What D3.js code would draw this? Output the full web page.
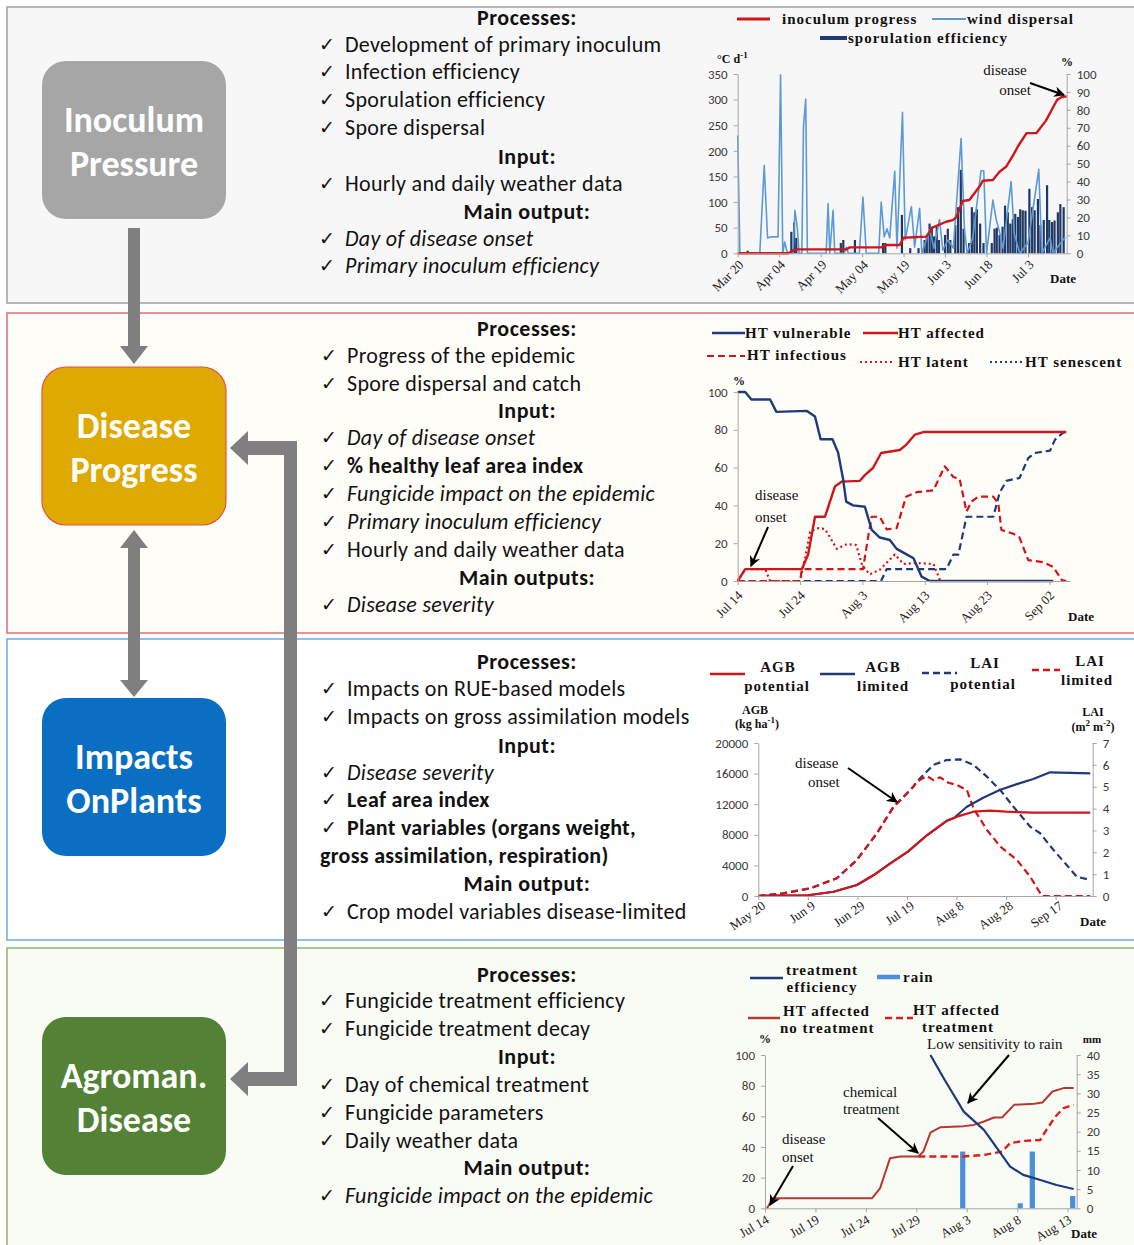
<!DOCTYPE html>
<html>
<head>
<meta charset="utf-8">
<script src="https://cdn.jsdelivr.net/npm/d3@7"></script>
<style>
  body { margin: 0; background: #fff; }
</style>
</head>
<body>
<svg id="fig" width="1134" height="1245"></svg>
<script>
// ---------- data ----------
// chart 1: inoculum pressure (days since Mar 20)
const c1TickDays = [0, 15, 30, 45, 60, 75, 90, 105];
const c1TickLabels = ["Mar 20", "Apr 04", "Apr 19", "May 04", "May 19", "Jun 3", "Jun 18", "Jul 3"];
const inoculumProgress = [[0,0],[18.3,0],[20.7,2.2],[39.3,2.2],[40.5,3.3],[51.9,3.3],[53.8,4.6],[58.6,4.6],[60,8.7],[68.2,9.3],[70.6,14.5],[75.4,17.6],[77.8,18.5],[79,20],[81.4,29.2],[83.8,29.7],[87.4,37.1],[88.7,40.5],[92.3,40.9],[94.7,45.5],[97.1,48.3],[99.5,54.3],[101.5,60],[104.5,67],[108,67],[111.5,74],[115.5,85.5],[117,87],[119,87.5]];
const windDispersal = [[0,230],[0.8,0],[8,0],[9.6,172],[10.8,30],[11.8,32],[14.6,32],[15.5,348],[16.3,0],[17,22],[18,0],[20,0],[20.7,84],[21.6,48],[22.2,0],[23.2,0],[23.8,247],[24.6,301],[25.2,0],[32,0],[32.7,97],[33.3,0],[34.5,84],[35.1,0],[38.5,0],[39.3,12],[40,0],[44,0],[45.3,110],[46.5,0],[51,0],[51.9,100],[53,32],[54,48],[55,30],[56.8,160],[57.6,10],[59.6,275],[60.6,26],[62.8,91],[64,12],[65.8,88],[66.6,0],[69.4,46],[71,10],[73,66],[74.2,6],[76,26],[78,10],[80.8,224],[82,48],[83,0],[85,30],[88,161],[89,161],[90,0],[92.3,104],[93.5,66],[94.5,46],[96,10],[98.9,140],[100,39],[102,0],[105,20],[108.9,164],[110,0],[113,30],[114,0],[118.5,32]];
const sporulation = [[3.6,5],[19.4,42],[20.4,60],[21.2,30],[37.3,20],[38.2,26],[42.4,26],[52.6,20],[53.4,20],[59.4,75],[62.4,10],[65.4,10],[67.6,26],[68.4,33],[69.4,58],[70.2,52],[71,33],[72,52],[72.8,26],[75,36],[76,48],[76.9,26],[78.7,55],[79.7,90],[80.7,163],[81.7,48],[83.7,20],[84.7,90],[85.6,80],[86.5,86],[87.7,58],[88.9,20],[91.9,20],[92.9,48],[93.7,50],[94.7,36],[95.8,52],[96.7,93],[97.7,80],[98.6,58],[99.5,67],[100.4,77],[101.4,71],[102.2,86],[103.1,84],[104.1,83],[105.5,126],[106.5,90],[107.4,84],[108.6,106],[109.5,55],[110.7,65],[111.9,133],[112.7,65],[113.7,61],[114.6,64],[115.8,80],[116.7,96],[117.9,90]];

// chart 2: disease progress (days since Jul 14), % of HT
const c2TickDays = [0, 10, 20, 30, 40, 50];
const c2TickLabels = ["Jul 14", "Jul 24", "Aug 3", "Aug 13", "Aug 23", "Sep 02"];
const htVulnerable = [[0,100],[1.2,100],[2.2,96],[5.2,96],[6.2,89.5],[11.1,90],[12.4,87],[13.3,75],[15.2,75],[16.1,68],[16.9,54],[17.4,42],[18.5,40],[20.4,39.3],[21.5,27],[22.8,23],[24.4,21.7],[25.5,17],[26.8,14.6],[28.2,12],[29.5,2.3],[30.8,0],[50.6,0]];
const htAffected = [[0,0],[1.2,6.3],[10.3,6.3],[11.3,14],[12.4,34],[14,34],[15.6,50],[16.7,52.6],[19.6,53],[20.4,56],[21.7,59.8],[23,67.7],[26,69.3],[27,72],[28.4,77.4],[29.8,78.8],[52.7,78.8]];
const htInfectious = [[0,0],[10,0],[10.3,6.3],[20.1,6.3],[20.9,23],[21.5,34],[22.8,34],[23.9,27.3],[25.5,28],[27,44.6],[28.7,47],[31.4,48],[33.2,60.7],[34.6,55],[35.6,54],[36.7,36.7],[37.5,42],[38.6,44.6],[41,44.6],[41.8,41],[42.3,27],[44.2,25],[45.2,23],[46.6,11],[49,10],[50.6,7.5],[52,0.5],[52.7,0]];
const htLatent = [[0,0],[1.2,6.3],[4.4,6.3],[5.2,0],[10,0],[10.8,12],[11.6,26],[12.7,28],[14,27.5],[15.9,17],[17.5,19.5],[19,19],[20,8],[21.2,3.5],[22.8,6],[25.2,14],[26.6,9],[28.7,9.5],[31.4,9],[32.5,0],[50.6,0]];
const htSenescent = [[0,0],[23,0],[23.9,6.3],[33.5,6.3],[34.6,14],[35.4,14],[36.7,34],[41,34],[42,46.6],[43.1,53],[45.2,54.5],[46.6,65],[47.6,67.7],[50.1,69],[50.9,74.8],[52.2,78.5],[52.7,79]];

// chart 3: impacts on plants (days since May 20)
const c3TickDays = [0, 20, 40, 60, 80, 100, 120];
const c3TickLabels = ["May 20", "Jun 9", "Jun 29", "Jul 19", "Aug 8", "Aug 28", "Sep 17"];
const agbPotential = [[0,0],[20,100],[30.4,560],[39.8,1440],[46.6,2740],[53.3,4260],[60.4,5790],[68.2,7970],[76.2,9850],[80.2,10370],[86.9,11020],[93.6,11150],[100,11020],[111,10890],[134,10890]];
const agbLimited = [[0,0],[20,100],[30.4,560],[39.8,1440],[46.6,2740],[53.3,4260],[60.4,5790],[68.2,7970],[76.2,9850],[79,10200],[84.2,11670],[91,12880],[97.7,13880],[104.4,14620],[111,15290],[117.8,16170],[134,16040]];
const laiPotential = [[0,0],[10,0.12],[20.9,0.35],[31.7,0.81],[39.8,1.65],[47.9,2.87],[54.6,4.08],[58.7,4.54],[62.6,5.0],[64,5.23],[70.7,6.0],[76,6.22],[81.5,6.25],[86.9,6.0],[92.3,5.46],[96.3,5.0],[97.7,4.85],[103,4.08],[109.8,3.17],[113.8,2.87],[119.2,2.1],[124.5,1.42],[128.6,0.88],[133,0.76]];
const laiLimited = [[0,0],[10,0.12],[20.9,0.35],[31.7,0.81],[39.8,1.65],[47.9,2.87],[54.6,4.08],[58.7,4.54],[62.6,5.0],[64,5.23],[68,5.49],[70.7,5.3],[73.4,5.43],[76.7,5.18],[80.2,5.08],[84.2,4.85],[86.9,4.01],[92.3,3.02],[97.7,2.26],[104.4,1.65],[109.8,0.88],[114.5,0],[134,0]];

// chart 4: agromanagement (days since Jul 14)
const c4TickDays = [0, 5, 10, 15, 20, 25, 30];
const c4TickLabels = ["Jul 14", "Jul 19", "Jul 24", "Jul 29", "Aug 3", "Aug 8", "Aug 13"];
const affectedNoTreatment = [[0.2,0],[0.8,6.5],[10.6,6.5],[11.4,13],[12.4,32.7],[13.4,33.8],[15.2,33.8],[15.7,37],[16.4,49.4],[17.4,52.9],[19.7,53.6],[20.7,54.4],[21.7,56.6],[22.7,59.2],[23.5,59.2],[24.7,67.5],[26.7,68.2],[27.5,69],[28.5,76.2],[29.6,78.4],[30.6,78.4]];
const affectedTreatment = [[15.2,33.8],[19.7,33.8],[21.7,34.8],[23.5,37],[24.3,42.5],[25.7,44],[27.3,44.6],[27.9,51.2],[28.8,59.9],[29.6,65.4],[30.6,67.5]];
const treatmentEfficiency = [[16.4,100],[17.7,85],[18.4,77.3],[19.7,63.1],[21.7,51.2],[23,39.2],[24.3,27.2],[25.6,21.8],[27.3,18.5],[28.9,15.2],[30.6,12.6]];
const rainMm = [[19.6,14.8],[25.3,1.3],[26.5,14.8],[30.5,3.2]];

// ---------- drawing ----------
const SANS = "Carlito, Calibri, Lato, 'Open Sans', sans-serif";
const SERIF = "'Liberation Serif', 'Times New Roman', serif";
const RED = "#d0161b", NAVY = "#1f3a78", LIGHT = "#5b9bd5";

const svg = d3.select("#fig");

const defs = svg.append("defs");
defs.append("marker")
  .attr("id", "ah").attr("viewBox", "0 0 10 10")
  .attr("refX", 9).attr("refY", 5)
  .attr("markerUnits", "userSpaceOnUse")
  .attr("markerWidth", 11).attr("markerHeight", 11)
  .attr("orient", "auto")
  .append("path").attr("d", "M0,0L10,5L0,10L3,5z").attr("fill", "#000");

// panels
function panel(y0, y1, stroke, fill) {
  svg.append("rect")
    .attr("x", 7).attr("y", y0)
    .attr("width", 1140).attr("height", y1 - y0)
    .attr("fill", fill).attr("stroke", stroke).attr("stroke-width", 1.5);
}
panel(7, 303, "#a0a0a0", "#f7f7f7");
panel(313, 633, "#e46c6c", "#fffdf8");
panel(639, 940, "#6fa8dc", "#ffffff");
panel(948, 1250, "#8fb56f", "#f9fbf5");

// arrows (grey connectors between boxes)
const arrowFill = "#7f7f7f";
function poly(pts) {
  svg.append("path").attr("d", "M" + pts.map(p => p.join(",")).join("L") + "Z").attr("fill", arrowFill);
}
poly([[128,228],[140,228],[140,346],[148,346],[134,364],[120,346],[128,346]]);
poly([[134,530],[148,548],[140,548],[140,680],[148,680],[134,697],[120,680],[128,680],[128,548],[120,548]]);
poly([[284,441],[297,441],[297,1086],[248,1086],[248,1096],[230,1079],[248,1062],[248,1072],[284,1072],[284,455],[248,455],[248,465],[230,448],[248,431],[248,441]]);

// coloured boxes
function box(y0, fill, stroke, lines) {
  svg.append("rect")
    .attr("x", 42).attr("y", y0).attr("width", 184).attr("height", 158)
    .attr("rx", 24).attr("fill", fill)
    .attr("stroke", stroke || "none").attr("stroke-width", 1.2);
  lines.forEach((t, i) => {
    svg.append("text")
      .attr("x", 134).attr("y", y0 + 71 + i * 44)
      .attr("text-anchor", "middle")
      .style("font-family", SANS).style("font-weight", "bold")
      .style("font-size", "36px").attr("fill", "#fff")
      .text(t);
  });
}
box(61, "#a6a6a6", null, ["Inoculum", "Pressure"]);
box(367, "#dea900", "#e8504a", ["Disease", "Progress"]);
box(698, "#0a6fc2", null, ["Impacts", "OnPlants"]);
box(1017, "#538135", null, ["Agroman.", "Disease"]);

// bullet lists: [kind, text, centre y]; h header, n normal, i italic, b bold, c bold continuation
function bullets(items, xText) {
  items.forEach(([k, t, y]) => {
    const base = y + 7;
    if (k === "h") {
      svg.append("text").attr("x", 527).attr("y", base).attr("text-anchor", "middle")
        .style("font-family", SANS).style("font-weight", "bold").style("font-size", "22px")
        .style("letter-spacing", "0.5px")
        .attr("fill", "#111").text(t);
      return;
    }
    if (k !== "c") {
      svg.append("text").attr("x", xText - 26).attr("y", base - 1)
        .style("font-family", "'DejaVu Sans', sans-serif").style("font-size", "19px")
        .attr("fill", "#111").text("\u2713");
    }
    svg.append("text").attr("x", k === "c" ? xText - 27 : xText).attr("y", base)
      .style("font-family", SANS).style("font-size", "22px")
      .style("letter-spacing", "0.3px")
      .style("font-style", k === "i" ? "italic" : "normal")
      .style("font-weight", (k === "b" || k === "c") ? "bold" : "normal")
      .attr("fill", "#111").text(t);
  });
}
bullets([
  ["h","Processes:",18],["n","Development of primary inoculum",45],["n","Infection efficiency",72],
  ["n","Sporulation efficiency",100],["n","Spore dispersal",128],["h","Input:",157],
  ["n","Hourly and daily weather data",184],["h","Main output:",212],
  ["i","Day of disease onset",239],["i","Primary inoculum efficiency",266]
], 345);
bullets([
  ["h","Processes:",329],["n","Progress of the epidemic",356],["n","Spore dispersal and catch",384],
  ["h","Input:",411],["i","Day of disease onset",438],["b","% healthy leaf area index",466],
  ["i","Fungicide impact on the epidemic",494],["i","Primary inoculum efficiency",522],
  ["n","Hourly and daily weather data",550],["h","Main outputs:",578],["i","Disease severity",605]
], 347);
bullets([
  ["h","Processes:",662],["n","Impacts on RUE-based models",689],["n","Impacts on gross assimilation models",717],
  ["h","Input:",746],["i","Disease severity",773],["b","Leaf area index",800],
  ["b","Plant variables (organs weight,",828],["c","gross assimilation, respiration)",856],
  ["h","Main output:",884],["n","Crop model variables disease-limited",912]
], 347);
bullets([
  ["h","Processes:",975],["n","Fungicide treatment efficiency",1001],["n","Fungicide treatment decay",1029],
  ["h","Input:",1057],["n","Day of chemical treatment",1085],["n","Fungicide parameters",1113],
  ["n","Daily weather data",1141],["h","Main output:",1168],["i","Fungicide impact on the epidemic",1196]
], 345);

// ---------- chart helpers ----------
function styleAxis(g) {
  g.select(".domain").attr("stroke", "#a6a6a6");
  g.selectAll(".tick line").attr("stroke", "#a6a6a6");
  g.selectAll(".tick text").attr("fill", "#3a3a3a")
    .style("font-family", SANS).style("font-size", "13px");
}
function leftAxis(y, x0, ticks) {
  const g = svg.append("g").attr("transform", `translate(${x0},0)`)
    .call(d3.axisLeft(y).tickValues(ticks).tickFormat(d3.format("d")).tickSize(4).tickSizeOuter(0).tickPadding(6));
  styleAxis(g);
}
function rightAxis(y, x0, ticks) {
  const g = svg.append("g").attr("transform", `translate(${x0},0)`)
    .call(d3.axisRight(y).tickValues(ticks).tickFormat(d3.format("d")).tickSize(4).tickSizeOuter(0).tickPadding(6));
  styleAxis(g);
}
function dateAxis(x, y0, days, labels, angle, off) {
  const g = svg.append("g").attr("transform", `translate(0,${y0})`)
    .call(d3.axisBottom(x).tickValues(days).tickFormat((d, i) => labels[i]).tickSize(4).tickSizeOuter(0));
  styleAxis(g);
  g.selectAll(".tick text")
    .attr("x", 0).attr("y", 0).attr("dy", "0.35em")
    .attr("text-anchor", "end")
    .attr("transform", `translate(${off[0]},${off[1]}) rotate(${-angle})`)
    .style("font-family", SERIF).style("font-size", "13px").attr("fill", "#222");
}
function txt(x, y, t, opt = {}) {
  const el = svg.append("text").attr("x", x).attr("y", y)
    .attr("text-anchor", opt.anchor || "start")
    .style("font-family", opt.family || SERIF)
    .style("font-size", (opt.size || 15) + "px")
    .style("font-weight", opt.bold ? "bold" : "normal")
    .style("letter-spacing", opt.ls || "0px")
    .attr("fill", opt.fill || "#111");
  if (opt.sup) {
    el.text(t);
    opt.sup.forEach(([s, rest]) => {
      el.append("tspan").attr("dy", -5).style("font-size", "9px").text(s);
      el.append("tspan").attr("dy", 5).text(rest);
    });
  } else el.text(t);
  return el;
}
function legLine(x1, x2, y, color, w, dash) {
  svg.append("line").attr("x1", x1).attr("x2", x2).attr("y1", y).attr("y2", y)
    .attr("stroke", color).attr("stroke-width", w).attr("stroke-dasharray", dash || null);
}
function legText(x, y, t, anchor) {
  return txt(x, y, t, { bold: true, size: 15, anchor: anchor, ls: "1px" });
}
function pointer(x1, y1, x2, y2) {
  svg.append("line").attr("x1", x1).attr("y1", y1).attr("x2", x2).attr("y2", y2)
    .attr("stroke", "#000").attr("stroke-width", 2).attr("marker-end", "url(#ah)");
}
function series(data, x, y, color, w, dash) {
  svg.append("path").datum(data)
    .attr("d", d3.line().x(d => x(d[0])).y(d => y(d[1])))
    .attr("fill", "none").attr("stroke", color).attr("stroke-width", w)
    .attr("stroke-linejoin", "round")
    .attr("stroke-dasharray", dash || null);
}

// ---------- chart 1 ----------
{
  const x = d3.scaleLinear().domain([0, 119]).range([737.7, 1066.7]);
  const yL = d3.scaleLinear().domain([0, 350]).range([253.3, 74]);
  const yR = d3.scaleLinear().domain([0, 100]).range([253.3, 74]);

  svg.append("g").selectAll("rect").data(sporulation).join("rect")
    .attr("x", d => x(d[0]) - 1.1).attr("width", 2.2)
    .attr("y", d => yL(d[1])).attr("height", d => yL(0) - yL(d[1]))
    .attr("fill", "#1f3864");
  series(windDispersal, x, yL, LIGHT, 1.6);
  series(inoculumProgress, x, yR, RED, 2.4);

  leftAxis(yL, 737.7, d3.range(0, 351, 50));
  rightAxis(yR, 1066.7, d3.range(0, 101, 10));
  dateAxis(x, 253.3, c1TickDays, c1TickLabels, 45, [3, 9]);

  txt(717, 63, "\u00B0C d", { size: 12, bold: true, sup: [["-1", ""]] });
  txt(1061, 66, "%", { size: 12, bold: true });
  txt(1050, 283, "Date", { size: 13, bold: true });

  legLine(737, 770, 19, RED, 3);
  legText(782, 24, "inoculum progress");
  legLine(932, 966, 19, LIGHT, 2);
  legText(967, 24, "wind dispersal");
  legLine(820, 847, 38, NAVY, 4);
  legText(848, 43, "sporulation efficiency");

  txt(1005, 75, "disease", { anchor: "middle" });
  txt(1015, 95, "onset", { anchor: "middle" });
  pointer(1030, 83, 1064, 95);
}

// ---------- chart 2 ----------
{
  const x = d3.scaleLinear().domain([0, 53.3]).range([737.7, 1070]);
  const y = d3.scaleLinear().domain([0, 100]).range([581, 392]);

  series(htSenescent, x, y, NAVY, 2.2, "7,4");
  series(htLatent, x, y, RED, 2.2, "2,3");
  series(htInfectious, x, y, RED, 2.2, "7,4");
  series(htAffected, x, y, RED, 2.4);
  series(htVulnerable, x, y, NAVY, 2.4);

  leftAxis(y, 737.7, d3.range(0, 101, 20));
  dateAxis(x, 581, c2TickDays, c2TickLabels, 45, [2, 12]);
  txt(733, 385, "%", { size: 12, bold: true });
  txt(1068, 621, "Date", { size: 13, bold: true });

  legLine(712, 745, 333, NAVY, 2.5);
  legText(745, 338, "HT vulnerable");
  legLine(863, 898, 333, RED, 2.5);
  legText(898, 338, "HT affected");
  legLine(707, 745, 356, RED, 2.2, "7,4");
  legText(747, 360, "HT infectious");
  legLine(860, 895, 362, RED, 2.2, "2,3");
  legText(898, 367, "HT latent");
  legLine(990, 1022, 362, NAVY, 2.2, "2,3");
  legText(1025, 367, "HT senescent");

  txt(755, 500, "disease");
  txt(755, 522, "onset");
  pointer(768, 527, 751, 566);
}

// ---------- chart 3 ----------
{
  const x = d3.scaleLinear().domain([0, 135]).range([758.3, 1092.7]);
  const yL = d3.scaleLinear().domain([0, 20000]).range([896, 743]);
  const yR = d3.scaleLinear().domain([0, 7]).range([896, 743]);

  series(laiPotential, x, yR, NAVY, 2.2, "7,4");
  series(laiLimited, x, yR, RED, 2.2, "7,4");
  series(agbLimited, x, yL, NAVY, 2.2);
  series(agbPotential, x, yL, RED, 2.2);

  leftAxis(yL, 758.3, d3.range(0, 20001, 4000));
  rightAxis(yR, 1092.7, d3.range(0, 8, 1));
  dateAxis(x, 896, c3TickDays, c3TickLabels, 35, [5, 8]);

  txt(755, 714, "AGB", { size: 12, bold: true, anchor: "middle" });
  txt(757, 728, "(kg ha", { size: 12, bold: true, anchor: "middle", sup: [["-1", ")"]] });
  txt(1093, 716, "LAI", { size: 12, bold: true, anchor: "middle" });
  txt(1093, 731, "(m", { size: 12, bold: true, anchor: "middle", sup: [["2", " m"], ["-2", ")"]] });
  txt(1080, 926, "Date", { size: 13, bold: true });

  legLine(710, 745, 674, RED, 2.5);
  legText(778, 672, "AGB", "middle");
  legText(777, 691, "potential", "middle");
  legLine(820, 855, 674, NAVY, 2.5);
  legText(883, 672, "AGB", "middle");
  legText(883, 691, "limited", "middle");
  legLine(922, 957, 673, NAVY, 2.5, "7,4");
  legText(985, 668, "LAI", "middle");
  legText(983, 689, "potential", "middle");
  legLine(1032, 1060, 670, RED, 2.5, "7,4");
  legText(1090, 666, "LAI", "middle");
  legText(1087, 685, "limited", "middle");

  txt(795, 768, "disease");
  txt(808, 787, "onset");
  pointer(848, 768, 897, 802);
}

// ---------- chart 4 ----------
{
  const x = d3.scaleLinear().domain([0, 30.9]).range([765, 1076.7]);
  const yL = d3.scaleLinear().domain([0, 100]).range([1208.3, 1055]);
  const yR = d3.scaleLinear().domain([0, 40]).range([1208.3, 1055]);

  svg.append("g").selectAll("rect").data(rainMm).join("rect")
    .attr("x", d => x(d[0]) - 2.6).attr("width", 5.2)
    .attr("y", d => yR(d[1])).attr("height", d => yR(0) - yR(d[1]))
    .attr("fill", "#4a8fd8");
  series(affectedTreatment, x, yL, "#e01b1b", 2.4, "7,4");
  series(affectedNoTreatment, x, yL, "#b23a35", 2);
  series(treatmentEfficiency, x, yL, NAVY, 2.2);

  leftAxis(yL, 765, d3.range(0, 101, 20));
  rightAxis(yR, 1076.7, d3.range(0, 41, 5));
  dateAxis(x, 1208.3, c4TickDays, c4TickLabels, 30, [2, 10]);

  txt(765, 1043, "%", { size: 12, bold: true, anchor: "middle" });
  txt(1092, 1043, "mm", { size: 11, bold: true, anchor: "middle" });
  txt(1071, 1238, "Date", { size: 13, bold: true });

  legLine(750, 783, 978, NAVY, 2.5);
  legText(822, 975, "treatment", "middle");
  legText(822, 992, "efficiency", "middle");
  legLine(877, 900, 977, "#4a8fd8", 4.5);
  legText(903, 982, "rain");
  legLine(748, 780, 1018, "#b23a35", 2.5);
  legText(783, 1016, "HT affected");
  legText(780, 1033, "no treatment");
  legLine(885, 913, 1018, "#e01b1b", 2.5, "7,4");
  legText(913, 1015, "HT affected");
  legText(922, 1032, "treatment");

  txt(927, 1049, "Low sensitivity to rain");
  pointer(1009, 1055, 968, 1103);
  txt(843, 1097, "chemical");
  txt(843, 1114, "treatment");
  pointer(878, 1118, 918, 1153);
  txt(782, 1144, "disease");
  txt(782, 1162, "onset");
  pointer(793, 1166, 770, 1205);
}
</script>
</body>
</html>
